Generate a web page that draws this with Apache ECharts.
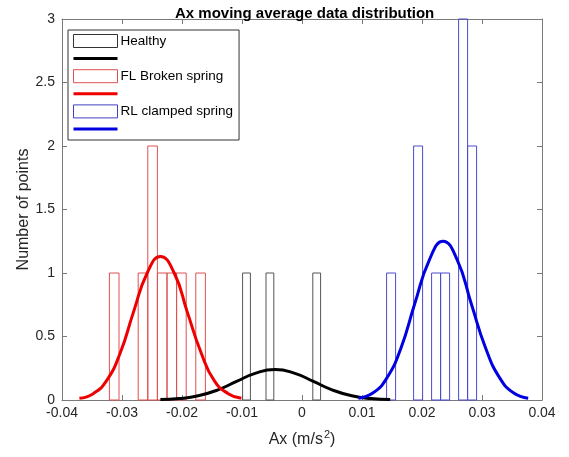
<!DOCTYPE html>
<html>
<head>
	<meta charset="utf-8"/>
	<title>Ax moving average data distribution</title>
	<style>
		* {
			margin: 0;
			padding: 0;
		}
		html, body {
			width: 100%;
			height: 100%;
			background: #fff;
		}
		#main {
			width: 569px;
			height: 457px;
		}
	</style>
</head>
<body>

	<div id="main"></div>

	<script src="https://cdn.jsdelivr.net/npm/echarts@6/dist/echarts.min.js"></script>
	<script>
		// histogram bin edges and counts
		var healthyEdges = [-0.0099, -0.0086, -0.0073, -0.0060, -0.0047, -0.0034, -0.0021, -0.0008, 0.0005, 0.0018, 0.0031];
		var healthyCounts = [1, 0, 0, 1, 0, 0, 0, 0, 0, 1];

		var flEdges = [-0.0321, -0.0305, -0.0289, -0.0273, -0.0257, -0.0241, -0.0225, -0.0209, -0.0193, -0.0177, -0.0161];
		var flCounts = [1, 0, 0, 1, 2, 1, 1, 1, 0, 1];

		var rlEdges = [0.0141, 0.0156, 0.0171, 0.0186, 0.0201, 0.0216, 0.0231, 0.0246, 0.0261, 0.0276, 0.0291];
		var rlCounts = [1, 0, 0, 2, 0, 1, 1, 0, 3, 2];

		// fitted curves
		var healthyCurveX = [-0.0236, -0.0205, -0.0173, -0.0141, -0.0109, -0.0077, -0.0045, -0.0013, 0.0019, 0.0051, 0.0083, 0.0115, 0.0147];
		var healthyCurveY = [0.003, 0.011, 0.033, 0.078, 0.146, 0.212, 0.24, 0.212, 0.146, 0.078, 0.033, 0.011, 0.003];

		var flCurveX = [-0.0371, -0.0348, -0.0326, -0.0303, -0.0281, -0.0258, -0.0236, -0.0213, -0.0191, -0.0168, -0.0146, -0.0123, -0.0101];
		var flCurveY = [0.013, 0.05, 0.15, 0.37, 0.69, 1.0, 1.13, 1.0, 0.69, 0.37, 0.15, 0.05, 0.013];

		var rlCurveX = [0.0094, 0.0118, 0.0141, 0.0165, 0.0188, 0.0212, 0.0235, 0.0259, 0.0282, 0.0306, 0.0330, 0.0353, 0.0377];
		var rlCurveY = [0.014, 0.055, 0.17, 0.41, 0.76, 1.1, 1.25, 1.1, 0.76, 0.41, 0.17, 0.055, 0.014];

		var xTickLabels = ['-0.04', '-0.03', '-0.02', '-0.01', '0', '0.01', '0.02', '0.03', '0.04'];
		var yTickLabels = ['0', '0.5', '1', '1.5', '2', '2.5', '3'];

		var FONT = 'Liberation Sans, Arial, Helvetica, sans-serif';
		var AXIS_COLOR = '#7a7a7a';
		var TEXT_COLOR = '#262626';
		var LINE_ICON = 'path://M0,0 L44,0 L44,3 L0,3 Z';

		function binData(edges, counts) {
			var out = [];
			for (var i = 0; i < counts.length; i++) {
				if (counts[i] > 0) out.push([edges[i], edges[i + 1], counts[i]]);
			}
			return out;
		}

		function curveData(xs, ys) {
			return xs.map(function (x, i) { return [x, ys[i]]; });
		}

		function histSeries(name, edges, counts, color) {
			return {
				name: name,
				type: 'custom',
				xAxisIndex: 0,
				yAxisIndex: 0,
				itemStyle: { color: '#fff', borderColor: color },
				encode: { x: [0, 1], y: 2 },
				data: binData(edges, counts),
				renderItem: function (params, api) {
					var topLeft = api.coord([api.value(0), api.value(2)]);
					var bottomRight = api.coord([api.value(1), 0]);
					return {
						type: 'rect',
						shape: {
							x: topLeft[0],
							y: topLeft[1],
							width: bottomRight[0] - topLeft[0],
							height: bottomRight[1] - topLeft[1]
						},
						style: { fill: 'none', stroke: color, lineWidth: 1 }
					};
				},
				z: 2
			};
		}

		function curveSeries(name, xs, ys, color) {
			return {
				name: name,
				type: 'line',
				xAxisIndex: 0,
				yAxisIndex: 0,
				smooth: true,
				symbol: 'none',
				color: color,
				lineStyle: { width: 3, color: color },
				data: curveData(xs, ys),
				z: 5
			};
		}

		var myChart = echarts.init(document.getElementById('main'));

		var baseX = {
			type: 'value',
			min: -0.04,
			max: 0.04,
			interval: 0.01,
			splitLine: { show: false },
			axisLine: { onZero: false, lineStyle: { color: AXIS_COLOR, width: 1 } },
			axisTick: { inside: true, length: 5, lineStyle: { color: AXIS_COLOR } }
		};
		var baseY = {
			type: 'value',
			min: 0,
			max: 3,
			interval: 0.5,
			splitLine: { show: false },
			axisLine: { onZero: false, lineStyle: { color: AXIS_COLOR, width: 1 } },
			axisTick: { inside: true, length: 5, lineStyle: { color: AXIS_COLOR } }
		};

		var option = {
			animation: false,
			backgroundColor: '#fff',
			textStyle: { fontFamily: FONT },
			title: {
				text: 'Ax moving average data distribution',
				left: 170,
				top: 1,
				textStyle: { fontSize: 15, fontWeight: 'bold', color: '#000', fontFamily: FONT }
			},
			grid: {
				left: 62,
				right: 27,
				top: 19,
				bottom: 57,
				outerBoundsMode: 'none'
			},
			legend: {
				orient: 'vertical',
				left: 68,
				top: 30,
				padding: [4, 6, 4, 5],
				itemGap: 3.6,
				itemWidth: 44,
				itemHeight: 13,
				borderColor: '#333',
				borderWidth: 1,
				backgroundColor: '#fff',
				textStyle: { fontSize: 13.5, color: '#000', fontFamily: FONT, padding: [0, 0, 0, -2] },
				data: [
					{ name: 'Healthy', icon: 'rect', itemStyle: { color: '#fff', borderColor: '#333', borderWidth: 1 } },
					{ name: ' ', icon: LINE_ICON, itemStyle: { color: '#000000' } },
					{ name: 'FL Broken spring', icon: 'rect', itemStyle: { color: '#fff', borderColor: '#e05050', borderWidth: 1 } },
					{ name: '  ', icon: LINE_ICON, itemStyle: { color: '#ee0000' } },
					{ name: 'RL clamped spring', icon: 'rect', itemStyle: { color: '#fff', borderColor: '#4040c0', borderWidth: 1 } },
					{ name: '   ', icon: LINE_ICON, itemStyle: { color: '#0000e0' } }
				]
			},
			xAxis: [
				Object.assign({}, baseX, {
					position: 'bottom',
					name: '{a|Ax (m/s}{sup|2}{a|)}',
					nameLocation: 'middle',
					nameGap: 29,
					nameMoveOverlap: false,
					nameTextStyle: {
						rich: {
							a: { fontSize: 16, color: TEXT_COLOR, fontFamily: FONT },
							sup: { fontSize: 11, color: TEXT_COLOR, fontFamily: FONT, verticalAlign: 'bottom', padding: [0, 0, 10, 1] }
						}
					},
					axisLabel: {
						fontSize: 14,
						color: TEXT_COLOR,
						margin: 6,
						formatter: function (v, i) { return xTickLabels[i]; }
					}
				}),
				Object.assign({}, baseX, {
					position: 'top',
					axisLabel: { show: false }
				})
			],
			yAxis: [
				Object.assign({}, baseY, {
					position: 'left',
					name: 'Number of points',
					nameLocation: 'middle',
					nameGap: 30,
					nameMoveOverlap: false,
					nameTextStyle: { fontSize: 16, color: TEXT_COLOR, fontFamily: FONT },
					axisLabel: {
						fontSize: 14,
						color: TEXT_COLOR,
						margin: 7,
						formatter: function (v, i) { return yTickLabels[i]; }
					}
				}),
				Object.assign({}, baseY, {
					position: 'right',
					axisLabel: { show: false }
				})
			],
			series: [
				histSeries('Healthy', healthyEdges, healthyCounts, '#555555'),
				curveSeries(' ', healthyCurveX, healthyCurveY, '#000000'),
				histSeries('FL Broken spring', flEdges, flCounts, '#e05050'),
				curveSeries('  ', flCurveX, flCurveY, '#ee0000'),
				histSeries('RL clamped spring', rlEdges, rlCounts, '#4a4ad0'),
				curveSeries('   ', rlCurveX, rlCurveY, '#0000e0')
			]
		};

		myChart.setOption(option);
	</script>
</body>
</html>
